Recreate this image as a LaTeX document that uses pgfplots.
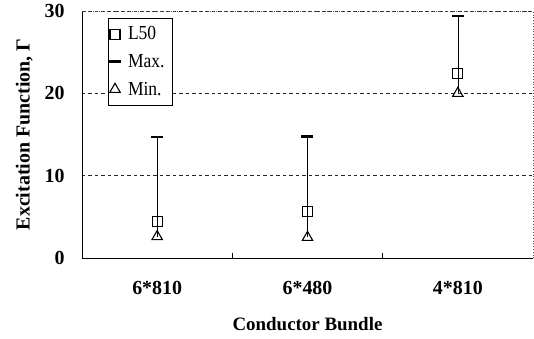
\documentclass[border=0pt]{standalone}
\usepackage{pgfplots}
\pgfplotsset{compat=1.18}
\usepackage{fontspec}
\setmainfont{Liberation Serif}
\newfontfamily\legfont{Liberation Serif}[FakeStretch=0.88]
\begin{document}
\begin{tikzpicture}
\begin{axis}[
  scale only axis, width=451bp, height=247bp,
  xmin=-0.5, xmax=2.5, ymin=0, ymax=30,
  axis x line*=bottom, axis y line*=left,
  axis line style={black, line width=1pt, -},
  xtick={0,1,2}, xticklabels={6*810,6*480,4*810},
  minor xtick={0.5,1.5},
  ytick={0,10,20,30},
  major tick length=0pt, minor tick length=5bp, tick align=inside,
  minor tick style={black, line width=0.8pt},
  ymajorgrids, major grid style={black!85, dash pattern=on 3.5pt off 3pt, line width=0.6pt},
  /pgf/number format/assume math mode=true,
  ticklabel style={font=\fontsize{20}{22}\selectfont\bfseries},
  x tick label style={yshift=-20bp},
  y tick label style={xshift=-14bp},
  xlabel={Conductor Bundle}, ylabel={Excitation Function, Γ},
  xlabel style={font=\fontsize{19}{22}\selectfont\bfseries, yshift=-16bp},
  ylabel style={font=\fontsize{20}{22}\selectfont\bfseries, yshift=5bp},
  legend style={at={(0.057,0.972)}, anchor=north west, draw=black, line width=0.6pt,
    font=\legfont\fontsize{20}{22}\selectfont, row sep=9bp, inner xsep=1bp, inner ysep=6.5bp,
    nodes={inner xsep=7bp}},
  legend cell align=left,
]
\addplot[black, line width=0.6pt, forget plot] coordinates {(0,2.6) (0,14.7)};
\addplot[black, line width=0.6pt, forget plot] coordinates {(1,2.5) (1,14.8)};
\addplot[black, line width=0.6pt, forget plot] coordinates {(2,20.0) (2,29.4)};
\addplot[only marks, mark=square, mark size=5bp, mark options={black, line width=1.1pt, fill=white}]
  coordinates {(0,4.4) (1,5.6) (2,22.4)};
\addlegendentry{L50}
\addplot[only marks, mark=-, mark size=6bp, mark options={black, line width=2.8pt}]
  coordinates {(0,14.7) (1,14.8) (2,29.4)};
\addlegendentry{Max.}
\addplot[only marks, mark=triangle, mark size=6bp, mark options={black, line width=1.1pt, fill=white}]
  coordinates {(0,2.6) (1,2.5) (2,20.0)};
\addlegendentry{Min.}
\end{axis}
\draw[black!70, dotted, line width=0.8pt] (current axis.north west) -- (current axis.north east) -- (current axis.south east);
\pgfresetboundingbox
\path[use as bounding box] ([xshift=-82bp,yshift=-81bp]current axis.south west) rectangle ([xshift=1bp,yshift=11bp]current axis.north east);
\end{tikzpicture}
\end{document}
